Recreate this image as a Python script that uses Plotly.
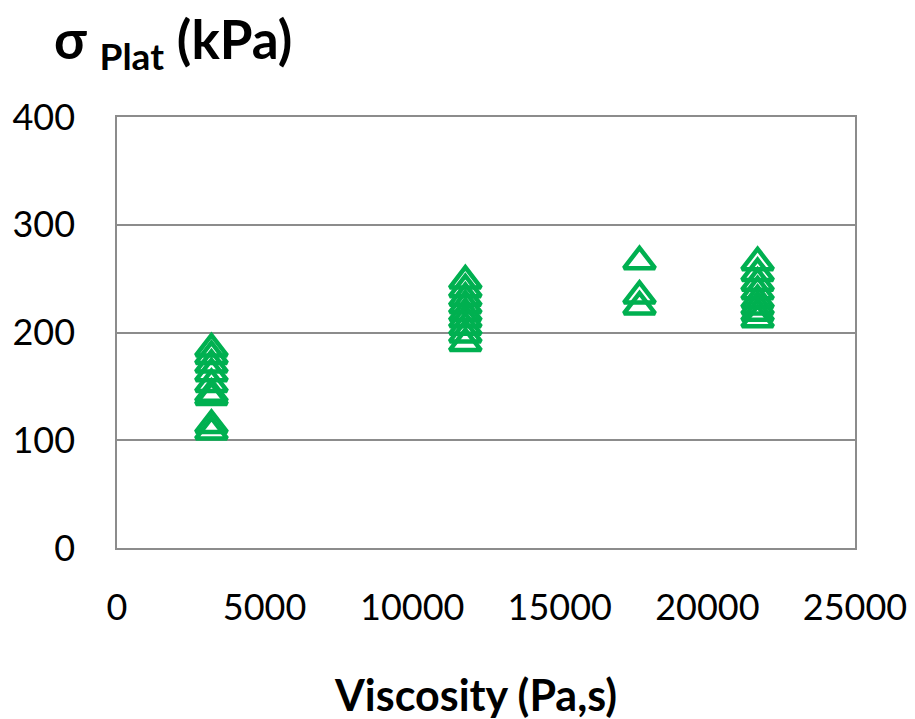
import plotly.graph_objects as go

# Plateau stress measured at four melt viscosities
viscosity = (
    [3200] * 9
    + [11800] * 9
    + [17700] * 3
    + [21700] * 8
)
sigma_plat = (
    [185, 178, 170, 162, 152, 143, 140, 114, 108]
    + [248, 240, 232, 225, 218, 212, 205, 198, 190]
    + [266, 234, 224]
    + [265, 255, 246, 238, 230, 224, 218, 212]
)

x_ticks = [0, 5000, 10000, 15000, 20000, 25000]
y_ticks = [0, 100, 200, 300, 400]

green = "#00B050"
grid = "#8C8C8C"
font_family = "Lato, 'Open Sans', sans-serif"

W, H = 915, 719
L, R, T, B = 117, 60, 117, 171
pw, ph = W - L - R, H - T - B


def px_to_paper(px, py):
    return (px - L) / pw, (H - B - py) / ph


fig = go.Figure(
    go.Scatter(
        x=viscosity,
        y=sigma_plat,
        mode="markers",
        marker=dict(
            symbol="triangle-up-open",
            size=27,
            color=green,
            line=dict(color=green, width=4.5),
        ),
        showlegend=False,
        cliponaxis=False,
    )
)

title_x, title_y = px_to_paper(52, 42)
xlab_x, xlab_y = px_to_paper(475, 694)

fig.update_layout(
    width=W,
    height=H,
    margin=dict(l=L, r=R, t=T, b=B, autoexpand=False),
    paper_bgcolor="white",
    plot_bgcolor="white",
    font=dict(family=font_family, color="black", size=36),
    xaxis=dict(
        range=[0, 25000],
        tickvals=x_ticks,
        ticktext=[str(v) for v in x_ticks],
        showgrid=False,
        zeroline=False,
        showline=True,
        linecolor=grid,
        linewidth=1.5,
        mirror=True,
        ticks="",
        tickfont=dict(size=36),
        ticklabelstandoff=27,
        automargin=False,
    ),
    yaxis=dict(
        range=[0, 400],
        tickvals=y_ticks,
        showgrid=True,
        gridcolor=grid,
        gridwidth=1.5,
        zeroline=False,
        showline=True,
        linecolor=grid,
        linewidth=1.5,
        mirror=True,
        ticks="",
        tickfont=dict(size=36),
        ticklabelstandoff=33,
        automargin=False,
    ),
    annotations=[
        dict(
            text="<b>σ <sub>Plat</sub> (kPa)</b>",
            x=title_x,
            y=title_y,
            xref="paper",
            yref="paper",
            xanchor="left",
            yanchor="middle",
            showarrow=False,
            font=dict(size=53),
        ),
        dict(
            text="<b>Viscosity (Pa,s)</b>",
            x=xlab_x,
            y=xlab_y,
            xref="paper",
            yref="paper",
            xanchor="center",
            yanchor="middle",
            showarrow=False,
            font=dict(size=43),
        ),
    ],
)

fig.write_html("out.html")
